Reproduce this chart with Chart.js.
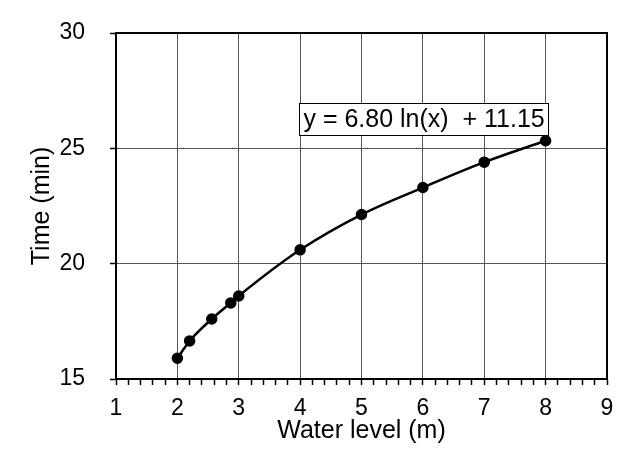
<!DOCTYPE html>
<html>
<head>
<meta charset="utf-8">
<script src="https://cdn.jsdelivr.net/npm/chart.js@4/dist/chart.umd.min.js"></script>
<style>
  html, body { margin: 0; padding: 0; background: #fff; }
  #wrap { width: 643px; height: 459px; }
</style>
</head>
<body>
<div id="wrap"><canvas id="myChart" width="643" height="459"></canvas></div>
<script>
// Data
const waterLevel = [2, 2.2, 2.56, 2.87, 3, 4, 5, 6, 7, 8];
const timeMin = [15.9, 16.65, 17.6, 18.3, 18.6, 20.6, 22.13, 23.3, 24.4, 25.33];
const xTicks = [1, 2, 3, 4, 5, 6, 7, 8, 9];
const yTicks = [15, 20, 25, 30];
const equationText = 'y = 6.80 ln(x)  + 11.15';
// where the equation label sits, in chart values
const equationAt = { x: 6.02, y: 26.28 };

const FONT = "'Liberation Sans', Arial, sans-serif";
const GRID = '#555555';

const isWhole = v => Math.abs(v - Math.round(v)) < 1e-6;

// black frame round the plot
const framePlugin = {
    id: 'frame',
    afterDraw: (chart) => {
        const {ctx, chartArea} = chart;
        ctx.save();
        ctx.strokeStyle = '#000';
        ctx.lineWidth = 2;
        ctx.strokeRect(chartArea.left, chartArea.top, chartArea.right - chartArea.left, chartArea.bottom - chartArea.top);
        ctx.restore();
    }
};

// boxed trendline equation
const equationPlugin = {
    id: 'equation',
    afterDatasetsDraw: (chart) => {
        const {ctx, scales} = chart;
        const cx = scales.x.getPixelForValue(equationAt.x);
        const cy = scales.y.getPixelForValue(equationAt.y);
        ctx.save();
        ctx.font = '25px ' + FONT;
        const w = ctx.measureText(equationText).width + 8;
        const h = 32;
        ctx.fillStyle = '#fff';
        ctx.fillRect(cx - w / 2, cy - h / 2, w, h);
        ctx.strokeStyle = '#000';
        ctx.lineWidth = 1;
        ctx.strokeRect(Math.round(cx - w / 2) + 0.5, Math.round(cy - h / 2) + 0.5, Math.round(w), h);
        ctx.fillStyle = '#000';
        ctx.textAlign = 'center';
        ctx.textBaseline = 'middle';
        ctx.fillText(equationText, cx, cy + 1);
        ctx.restore();
    }
};

const ctx = document.getElementById('myChart').getContext('2d');
const myChart = new Chart(ctx, {
    type: 'scatter',
    data: {
        datasets: [{
            data: waterLevel.map((x, i) => ({x: x, y: timeMin[i]})),
            showLine: true,
            borderColor: '#000',
            backgroundColor: '#000',
            borderWidth: 2.5,
            cubicInterpolationMode: 'monotone',
            pointRadius: 4.5,
            pointHoverRadius: 4.5
        }]
    },
    options: {
        responsive: false,
        animation: false,
        layout: {
            padding: { left: 0, right: 36, top: 33, bottom: 0 }
        },
        plugins: {
            legend: { display: false },
            tooltip: { enabled: false }
        },
        scales: {
            x: {
                type: 'linear',
                min: xTicks[0],
                max: xTicks[xTicks.length - 1],
                afterFit: (scale) => {
                    scale.height = 80;
                    scale.paddingLeft = 0;
                    scale.paddingRight = 0;
                },
                afterBuildTicks: (scale) => {
                    const t = [];
                    for (let i = 0; i <= (xTicks.length - 1) * 5; i++) {
                        t.push({value: xTicks[0] + i / 5});
                    }
                    scale.ticks = t;
                },
                grid: {
                    color: (c) => isWhole(c.tick.value) ? GRID : 'rgba(0,0,0,0)',
                    tickColor: '#000',
                    lineWidth: 1,
                    tickLength: 6,
                    tickWidth: 1.5
                },
                border: { color: '#000', width: 2 },
                ticks: {
                    autoSkip: false,
                    maxRotation: 0,
                    padding: 10,
                    color: '#000',
                    font: { family: FONT, size: 23 },
                    callback: (v) => isWhole(v) ? String(Math.round(v)) : ''
                },
                title: {
                    display: true,
                    text: 'Water level (m)',
                    color: '#000',
                    font: { family: FONT, size: 25 },
                    padding: { top: 0, bottom: 13 }
                }
            },
            y: {
                min: yTicks[0],
                max: yTicks[yTicks.length - 1],
                afterFit: (scale) => {
                    scale.width = 116;
                    scale.paddingTop = 0;
                    scale.paddingBottom = 0;
                },
                afterBuildTicks: (scale) => {
                    scale.ticks = yTicks.map(v => ({value: v}));
                },
                grid: {
                    color: GRID,
                    tickColor: '#000',
                    lineWidth: 1,
                    tickLength: 6,
                    tickWidth: 1.5
                },
                border: { color: '#000', width: 2 },
                ticks: {
                    padding: 25,
                    color: '#000',
                    font: { family: FONT, size: 23 }
                },
                title: {
                    display: true,
                    text: 'Time (min)',
                    color: '#000',
                    font: { family: FONT, size: 25 },
                    padding: { top: 27, bottom: 0 }
                }
            }
        }
    },
    plugins: [framePlugin, equationPlugin]
});
</script>
</body>
</html>
